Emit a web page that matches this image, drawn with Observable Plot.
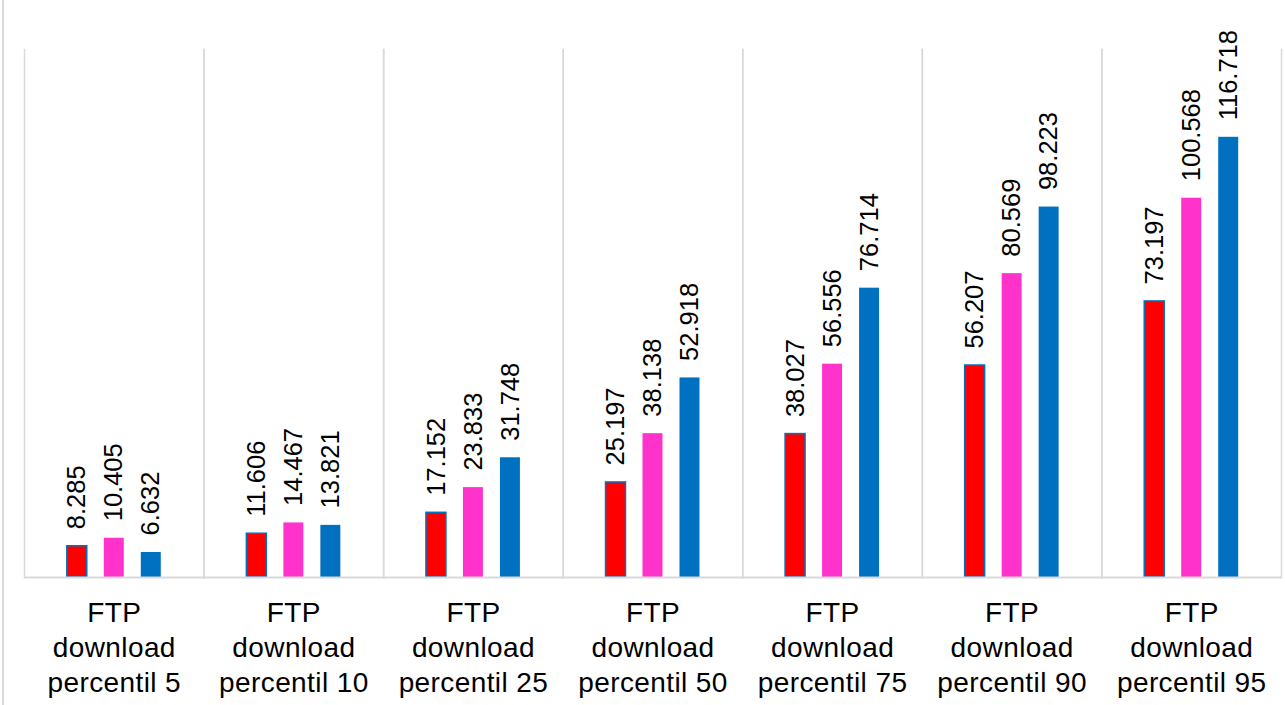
<!DOCTYPE html>
<html>
<head>
<meta charset="utf-8">
<script src="https://cdn.jsdelivr.net/npm/d3@7"></script>
<script src="https://cdn.jsdelivr.net/npm/@observablehq/plot@0.6"></script>
<style>
  html, body { margin: 0; padding: 0; background: #fff; }
  #wrap { position: relative; width: 1285px; height: 705px; overflow: hidden; }
  #edge { position: absolute; left: 2px; top: 0; width: 2px; height: 705px; background: #d9d9d9; }
  .catlabels text { letter-spacing: 0.4px; }
</style>
</head>
<body>
<div id="wrap"><div id="edge"></div><div id="chart"></div></div>
<script>
const categories = ["percentil 5", "percentil 10", "percentil 25", "percentil 50", "percentil 75", "percentil 90", "percentil 95"];
const seriesNames = ["Série 1", "Série 2", "Série 3"];
const seriesColors = ["#ff0000", "#ff33cc", "#0070c0"];
const series1 = [8.285, 11.606, 17.152, 25.197, 38.027, 56.207, 73.197];
const series2 = [10.405, 14.467, 23.833, 38.138, 56.556, 80.569, 100.568];
const series3 = [6.632, 13.821, 31.748, 52.918, 76.714, 98.223, 116.718];

const allSeries = [series1, series2, series3];
const data = [];
categories.forEach((c, i) => {
  allSeries.forEach((s, j) => {
    data.push({cat: c, series: seriesNames[j], value: s[i]});
  });
});

const chart = Plot.plot({
  width: 1285,
  height: 705,
  marginLeft: 24,
  marginRight: 4,
  marginTop: 49,
  marginBottom: 128,
  style: {fontFamily: "'Liberation Sans', Arial, sans-serif", background: "#fff"},
  fx: {domain: categories, padding: 0, label: null, round: false},
  x: {domain: seriesNames, paddingInner: 0.46, paddingOuter: 1.157, axis: null, round: false},
  y: {domain: [0, 140], axis: null},
  color: {domain: seriesNames, range: seriesColors},
  marks: [
    Plot.frame({anchor: "left", stroke: "#d9d9d9", strokeWidth: 1.5}),
    Plot.frame({anchor: "right", stroke: "#d9d9d9", strokeWidth: 1.5}),
    Plot.barY(data, {
      fx: "cat", x: "series", y: "value", fill: "series",
      stroke: d => d.series === seriesNames[0] ? "#0070c0" : "none",
      strokeWidth: 1.5, inset: 0
    }),
    Plot.ruleY([0], {stroke: "#d9d9d9", strokeWidth: 2}),
    Plot.text(data, {
      fx: "cat", x: "series", y: "value", text: d => d.value.toFixed(3),
      rotate: -90, textAnchor: "start", dy: -17, fontSize: 25.5, fill: "#000"
    }),
    Plot.axisFx({
      anchor: "bottom", tickSize: 0, tickPadding: 20, fontSize: 28, lineHeight: 1.25,
      tickFormat: d => "FTP\ndownload\n" + d, fill: "#000", label: null, className: "catlabels"
    })
  ]
});
document.getElementById("chart").appendChild(chart);
</script>
</body>
</html>
